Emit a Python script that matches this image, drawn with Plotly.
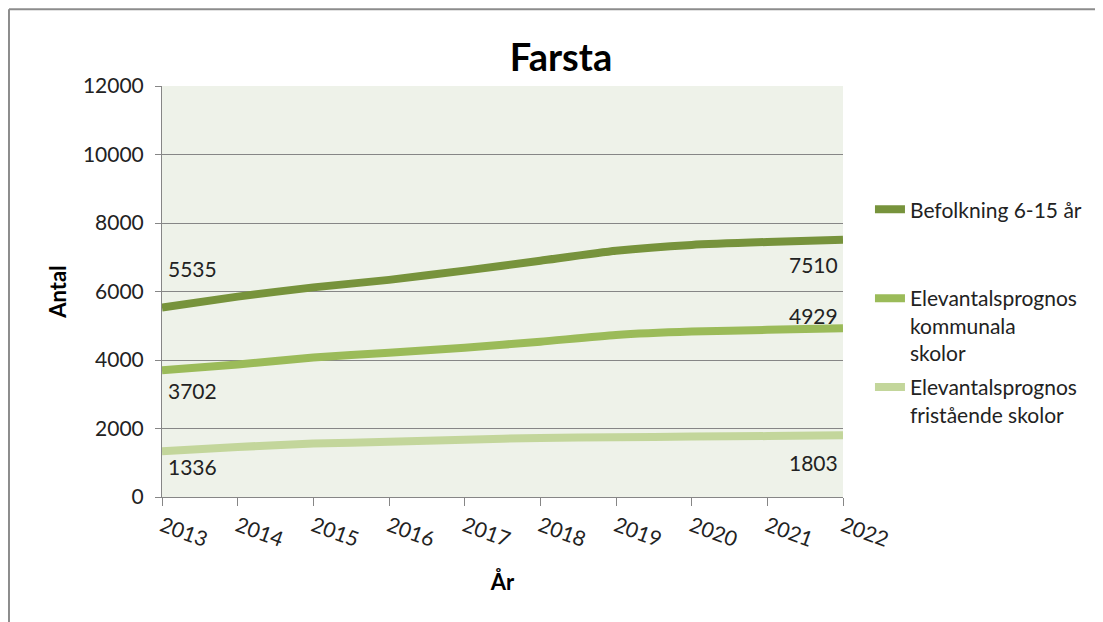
import plotly.graph_objects as go

years = [2013, 2014, 2015, 2016, 2017, 2018, 2019, 2020, 2021, 2022]
befolkning = [5535, 5850, 6120, 6340, 6610, 6900, 7190, 7360, 7445, 7510]
kommunala = [3702, 3870, 4075, 4215, 4360, 4535, 4730, 4830, 4880, 4929]
fristaende = [1336, 1460, 1560, 1610, 1675, 1725, 1745, 1765, 1778, 1803]

names = ["Befolkning 6-15 år<br> <br> ",
         "Elevantalsprognos<br>kommunala<br>skolor",
         "Elevantalsprognos<br>fristående skolor"]
colors = ["#77933C", "#9BBB59", "#C3D69B"]
series = [befolkning, kommunala, fristaende]

FONT = "Lato, Calibri, sans-serif"
TXT = "#222222"
FS = 21

fig = go.Figure()
for i, (nm, col, vals) in enumerate(zip(names, colors, series)):
    fig.add_trace(go.Scatter(x=years, y=vals, name=nm, mode="lines",
                             line=dict(color=col, width=8, shape="spline", smoothing=0.6),
                             legendgroup=str(i)))

# data labels: first and last points
label_offsets = [(39, -25), (-20, 13), (-15, -27)]
for vals, (y0, y1) in zip(series, label_offsets):
    fig.add_annotation(x=years[0], y=vals[0], text=str(vals[0]), showarrow=False,
                       xanchor="left", yanchor="middle", xshift=4, yshift=y0,
                       font=dict(size=FS, color=TXT, family=FONT))
    fig.add_annotation(x=years[-1], y=vals[-1], text=str(vals[-1]), showarrow=False,
                       xanchor="right", yanchor="middle", xshift=-3, yshift=y1,
                       font=dict(size=FS, color=TXT, family=FONT))

# outer chart border (top and left)
fig.add_shape(type="line", xref="paper", yref="paper", x0=-0.2247, x1=1.4, y0=1.187, y1=1.187,
              line=dict(color="#8C8C8C", width=2))
fig.add_shape(type="line", xref="paper", yref="paper", x0=-0.2247, x1=-0.2247, y0=1.187, y1=-0.4,
              line=dict(color="#8C8C8C", width=2))

fig.update_layout(
    width=1095, height=614,
    margin=dict(l=154, r=260, t=78, b=125),
    paper_bgcolor="white", plot_bgcolor="#EEF2E9",
    font=dict(family=FONT, size=FS, color=TXT),
    title=dict(text="<b>Farsta</b>", x=0.505, xanchor="center", y=0.9186, yanchor="middle",
               font=dict(size=38, color="#000000", family=FONT)),
    legend=dict(x=1.0396, y=0.749, xanchor="left", yanchor="top", valign="top",
                font=dict(size=FS, color=TXT, family=FONT), tracegroupgap=4,
                bgcolor="rgba(0,0,0,0)"),
    showlegend=True,
)
fig.update_xaxes(
    type="linear", range=[2013, 2022], tickvals=years, ticktext=[str(y) for y in years],
    tickangle=20, ticks="outside", ticklen=8, tickcolor="#868686",
    showline=True, linecolor="#868686", linewidth=1, showgrid=False, zeroline=False,
    tickfont=dict(size=FS, family=FONT, color=TXT),
    title=dict(text="<b>År</b>", font=dict(size=22, family=FONT, color="#000000"), standoff=24),
)
fig.update_yaxes(
    range=[0, 12000], dtick=2000, tickformat="d", ticks="outside", ticklen=6, tickcolor="#868686",
    ticklabelstandoff=7,
    showline=True, linecolor="#868686", linewidth=1, showgrid=True, gridcolor="#868686",
    gridwidth=1, zeroline=False, tickfont=dict(size=FS, family=FONT, color=TXT),
    title=dict(text="<b>Antal</b>", font=dict(size=22, family=FONT, color="#000000"), standoff=10),
)

fig.write_html("out.html")
